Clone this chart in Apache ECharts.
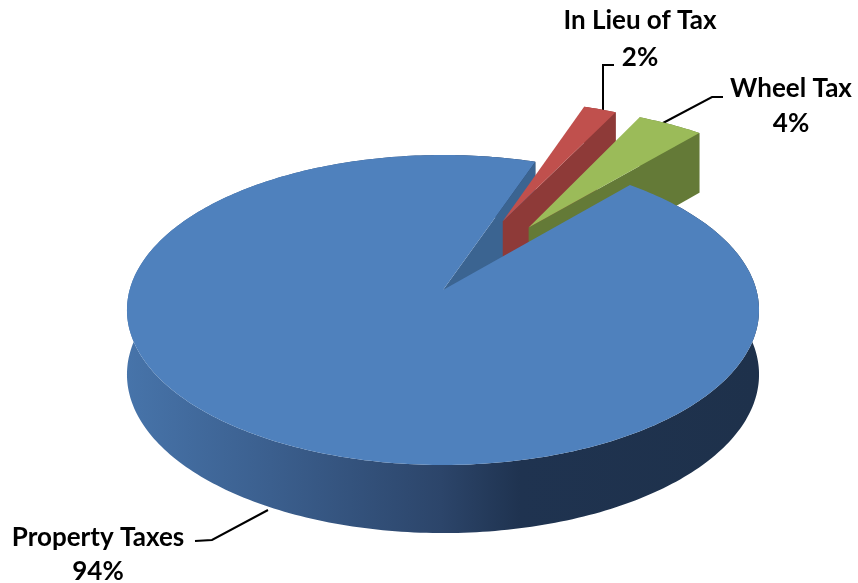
<!DOCTYPE html>
<html>
<head>
<meta charset="utf-8">
<script src="https://cdn.jsdelivr.net/npm/echarts/dist/echarts.min.js"></script>
<style>
html, body { margin: 0; padding: 0; background: #fff; }
#main { width: 858px; height: 583px; }
</style>
</head>
<body>
<div id="main"></div>
<script>
// data
let names = ['Property Taxes', 'In Lieu of Tax', 'Wheel Tax']
let values = [94, 2, 4]
let explode = [0, 0.52, 0.52]   // exploded slices (fraction of radius)
let firstSliceAngle = 40.9       // degrees, clockwise from 12 o'clock

let topColors = ['#4F81BD', '#C0504D', '#9BBB59']
let cutColors = ['#3B6491', '#8E3A38', '#647A37']

// simple perspective projection of the pie plane
let P = { x0: 443, y0: 290, A: 152.4, B: 313.4, k: 0.129, H: 64, kh: 0.06 }

function proj(u, v, bottom) {
	let s = 1 + P.k * v
	let x = P.x0 + P.B * u / s
	let y = P.y0 - P.A * v / s
	if (bottom) y += P.H / (1 + P.kh * v)
	return [x, y]
}

function rad(d) { return d * Math.PI / 180 }

function sliceAngles(i) {
	let total = values.reduce((a, b) => a + b, 0)
	let cum = 0
	for (let j = 0; j < i; j++) cum += values[j]
	let a0 = firstSliceAngle + cum / total * 360
	let a1 = a0 + values[i] / total * 360
	return [a0, a1]
}

function rim(a0, a1, ou, ov, bottom) {
	let pts = []
	let n = Math.max(2, Math.ceil(Math.abs(a1 - a0)))
	for (let j = 0; j <= n; j++) {
		let a = rad(a0 + (a1 - a0) * j / n)
		pts.push(proj(ou + Math.sin(a), ov + Math.cos(a), bottom))
	}
	return pts
}

// draw order: blue sides -> red -> green -> blue top
let zBase = [0, 10, 20]
let topZ = [40, 15, 25]

function renderItem(params, api) {
	let i = params.dataIndex
	let [a0, a1] = sliceAngles(i)
	let mid = rad((a0 + a1) / 2)
	let ou = explode[i] * Math.sin(mid)
	let ov = explode[i] * Math.cos(mid)

	let topRim = rim(a0, a1, ou, ov, false)
	let botRim = rim(a0, a1, ou, ov, true)
	let apexT = proj(ou, ov, false)
	let apexB = proj(ou, ov, true)

	let sideFill = cutColors[i]
	if (i === 0) {
		sideFill = new echarts.graphic.LinearGradient(125, 0, 757, 0, [
			{ offset: 0, color: '#4774AA' },
			{ offset: 0.23, color: '#3B5F8E' },
			{ offset: 0.5, color: '#2C456A' },
			{ offset: 0.625, color: '#1F3350' },
			{ offset: 1, color: '#1E314B' }
		], true)
	}

	let e1 = rad(a1)
	let rimT = proj(ou + Math.sin(e1), ov + Math.cos(e1), false)
	let rimB = proj(ou + Math.sin(e1), ov + Math.cos(e1), true)

	return {
		type: 'group',
		children: [
			{
				type: 'polygon',
				z2: zBase[i] + 1,
				shape: { points: topRim.concat(botRim.slice().reverse()) },
				style: { fill: sideFill, stroke: null }
			},
			{
				type: 'polygon',
				z2: zBase[i] + 2,
				shape: { points: [apexT, rimT, rimB, apexB] },
				style: { fill: cutColors[i], stroke: null }
			},
			{
				type: 'polygon',
				z2: topZ[i],
				shape: { points: [apexT].concat(topRim) },
				style: { fill: topColors[i], stroke: null }
			}
		]
	}
}

let labelFont = 'bold 26px Lato, "Liberation Sans", sans-serif'
let myChart = echarts.init(document.getElementById('main'), null, { renderer: 'canvas' })

let option = {
	animation: false,
	backgroundColor: '#fff',
	series: [{
		type: 'custom',
		coordinateSystem: 'none',
		renderItem: renderItem,
		data: values.map((v, i) => ({ name: names[i], value: v }))
	}],
	graphic: [
		{ type: 'polyline', shape: { points: [[603, 112], [603, 65], [614, 65]] }, style: { stroke: '#000', lineWidth: 2, fill: null } },
		{ type: 'polyline', shape: { points: [[663, 123], [712, 97], [723, 97]] }, style: { stroke: '#000', lineWidth: 2, fill: null } },
		{ type: 'polyline', shape: { points: [[268, 510], [212, 540], [195, 541]] }, style: { stroke: '#000', lineWidth: 2, fill: null } },
		{ type: 'text', x: 640, y: 39, style: { text: names[1] + '\n' + values[1] + '%', align: 'center', verticalAlign: 'middle', lineHeight: 37, font: labelFont, fill: '#000' } },
		{ type: 'text', x: 791, y: 106, style: { text: names[2] + '\n' + values[2] + '%', align: 'center', verticalAlign: 'middle', lineHeight: 35, font: labelFont, fill: '#000' } },
		{ type: 'text', x: 98, y: 555, style: { text: names[0] + '\n' + values[0] + '%', align: 'center', verticalAlign: 'middle', lineHeight: 34, font: labelFont, fill: '#000' } }
	]
}

myChart.setOption(option)
</script>
</body>
</html>
